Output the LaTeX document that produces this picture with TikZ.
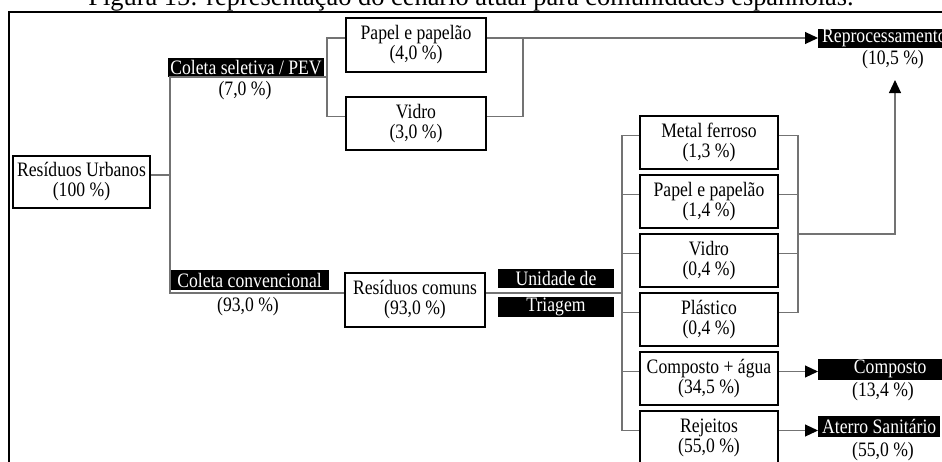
\documentclass[tikz,border=0pt]{standalone}
\usepackage{fontspec}
\setmainfont{Liberation Serif}[FakeStretch=0.86]
\newfontfamily\capfont{Liberation Serif}
\usetikzlibrary{arrows.meta}

\begin{document}
\begin{tikzpicture}[x=1pt,y=-1pt,
  txt/.style={font=\fontsize{20.5}{20}\selectfont},
  box/.style={txt,draw=black,line width=2pt,minimum width=#1,minimum height=53pt,
              inner sep=0pt,align=center},
  box/.default=138pt,
  tag/.style={txt,fill=black,text=white,inner xsep=0pt,inner ysep=0pt,
              minimum height=19pt,minimum width=#1},
  tag/.default=116pt,
  pct/.style={txt,inner sep=0pt},
  conn/.style={draw=black!55,line width=1.1pt},
  arr/.style={-{Triangle[length=13pt,width=12pt,color=black]}},
]
\useasboundingbox (0,0) rectangle (942,461);
\clip (0,0) rectangle (942,461);

% caption above the frame
\node[font=\capfont\fontsize{26.4}{28}\selectfont,anchor=base,inner sep=0pt]
  (cap) at (471,5) {Figura 15: representação do cenário atual para comunidades espanholas.};

% outer frame
\draw[line width=2.2pt] (9,12) rectangle (980,500);

% source
\node[box=137pt,minimum height=52pt] (ru) at (81.5,182) {Resíduos Urbanos\\(100 \%)};

% selective collection branch
\node[tag=156pt] (cs) at (246,67.5) {Coleta seletiva / PEV};
\node[pct] (csp) at (245,91) {(7,0 \%)};
\node[box=140pt,minimum height=54pt] (pp1) at (416,45) {Papel e papelão\\(4,0 \%)};
\node[box=140pt] (vd1) at (416,123.5) {Vidro\\(3,0 \%)};

% conventional collection branch
\node[tag=159pt,minimum height=20pt] (cc) at (249.5,280) {Coleta convencional};
\node[pct] (ccp) at (248,307) {(93,0 \%)};
\node[box=140pt,minimum height=54pt] (rc) at (415,300) {Resíduos comuns\\(93,0 \%)};
\node[tag] (ud) at (556,278) {Unidade de};
\node[tag,minimum height=20pt] (tr) at (556,307) {Triagem};

% sorting outputs
\node[box] (mf)  at (709,142.5) {Metal ferroso\\(1,3 \%)};
\node[box] (pp2) at (709,201.5) {Papel e papelão\\(1,4 \%)};
\node[box] (vd2) at (709,260.5) {Vidro\\(0,4 \%)};
\node[box] (pl)  at (709,319.5) {Plástico\\(0,4 \%)};
\node[box] (cp)  at (709,378.5) {Composto + água\\(34,5 \%)};
\node[box] (rj)  at (709,437.5) {Rejeitos\\(55,0 \%)};

% destinations
\node[tag,anchor=west,inner xsep=4pt,minimum width=0pt] (rep) at (818,38) {Reprocessamento};
\node[pct] (repp) at (893,60) {(10,5 \%)};
\node[tag=144pt,anchor=west,minimum height=21pt] (cpl) at (818,369) {Composto};
\node[pct] (cplp) at (883,392) {(13,4 \%)};
\node[tag,anchor=west,inner xsep=4pt,minimum width=0pt,minimum height=21pt] (atl) at (818,426) {Aterro Sanitário};
\node[pct] (atlp) at (883,452) {(55,0 \%)};

% junction points
\coordinate (b1) at (327,77);
\coordinate (trk) at (170,175);
\coordinate (b2) at (523,38);
\coordinate (sp) at (622,293);
\coordinate (sr) at (798,234);
\coordinate (uptip) at (895,80);

\foreach \n in {ru,pp1,vd1,rc,mf,pp2,vd2,pl,cp,rj}{
  \coordinate (\n L) at ([yshift=7pt]\n.west);
  \coordinate (\n R) at ([yshift=7pt]\n.east);
}

% left tree
\draw[conn] (ruR) -- (trk);
\draw[conn] (b1) -| (trk) |- (rcL);
\draw[conn] (pp1L) -| (b1) |- (vd1L);

% recyclables from selective collection
\draw[conn] (vd1R) -| (b2);
\draw[conn,arr] (pp1R) -- (rep.west);

% sorting unit
\draw[conn] (rcR) -- (sp);
\draw[conn] (mfL) -| (sp) |- (rjL);
\foreach \n in {pp2,vd2,pl,cp}{
  \draw[conn] (\n L) -- (\n L -| sp);
}
\draw[conn] (mfR) -| (sr) |- (plR);
\foreach \n in {pp2,vd2}{
  \draw[conn] (\n R) -- (\n R -| sr);
}
\draw[conn,arr] (sr) -| (uptip);

% compost and landfill
\draw[conn,arr] (cpR) -- (cpR -| cpl.west);
\draw[conn,arr] (rjR) -- (rjR -| atl.west);
\end{tikzpicture}
\end{document}
